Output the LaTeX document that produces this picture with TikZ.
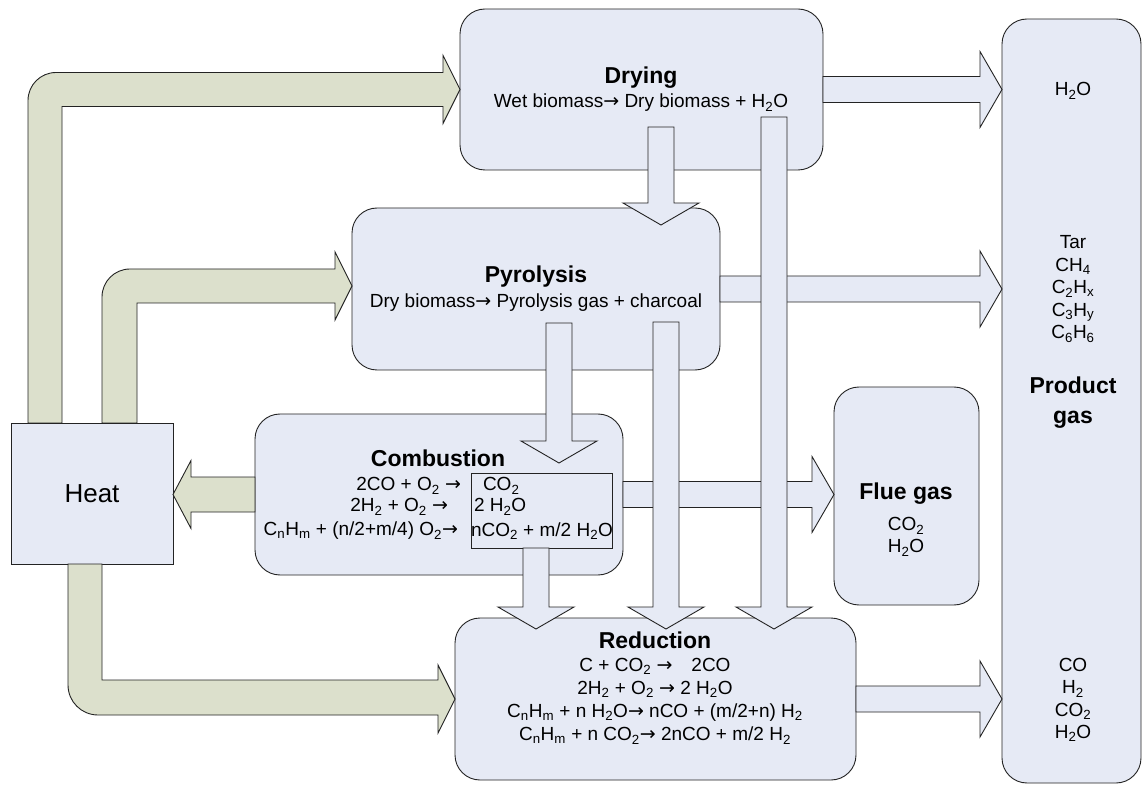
\documentclass[tikz,border=0pt]{standalone}
\usepackage{fontspec}
\setmainfont{Liberation Sans}
\newfontfamily\arrowfont{DejaVu Sans}
\usepackage{tikz}
\usetikzlibrary{calc}
\definecolor{boxfill}{RGB}{230,234,245}
\definecolor{heatfill}{RGB}{220,224,204}
\definecolor{edge}{RGB}{35,35,35}
\newcommand{\chsub}[1]{\textsubscript{#1}}
\newcommand{\yields}{{\arrowfont\fontsize{19}{20}\selectfont →}}

\begin{document}
\begin{tikzpicture}[x=1pt, y=-1pt,
  every node/.style={inner sep=0pt, outer sep=0pt},
  stage/.style={draw=edge, line width=.9pt, fill=boxfill, rounded corners=25pt},
  heatbox/.style={draw=edge, line width=.9pt, fill=boxfill},
  title/.style={font=\fontsize{23}{30}\selectfont\bfseries, align=center},
  eqn/.style={font=\fontsize{19}{22.5}\selectfont, align=center},
  heatarrow/.style={draw=edge, line width=.9pt, fill=heatfill},
  bandw/.store in=\bw, headw/.store in=\hw, headl/.store in=\hl,
  bandw=13pt, headw=38pt, headl=22pt,
  fat/.style={draw=edge, line width=.9pt, fill=boxfill,
    to path={($(\tikztotarget)!\hl!(\tikztostart)$) coordinate (fa-base)
      ($(\tikztostart)!\bw!90:(\tikztotarget)$) -- ($(fa-base)!\bw!90:(\tikztotarget)$)
      -- ($(fa-base)!\hw!90:(\tikztotarget)$) -- (\tikztotarget)
      -- ($(fa-base)!\hw!-90:(\tikztotarget)$) -- ($(fa-base)!\bw!-90:(\tikztotarget)$)
      -- ($(\tikztostart)!\bw!-90:(\tikztotarget)$) -- cycle}},
]
\useasboundingbox (0,0) rectangle (1144,786);

% stages
\node[stage, minimum width=363pt, minimum height=161pt] (dry) at (641.5,89.5) {};
\node[stage, minimum width=368pt, minimum height=162pt] (pyro) at (536,289) {};
\node[stage, minimum width=368pt, minimum height=161pt] (comb) at (439,494.5) {};
\node[stage, minimum width=401pt, minimum height=162pt] (red) at (655.5,699) {};
\node[stage, minimum width=145pt, minimum height=218pt] (flue) at (906.5,496) {};
\node[stage, minimum width=139pt, minimum height=764pt] (prod) at (1071.5,401) {};
\node[heatbox, minimum width=141pt, minimum height=75pt] (inner) at (541.5,510.5) {};
\node[heatbox, minimum width=162pt, minimum height=141pt, font=\fontsize{26}{30}\selectfont] (heat) at (92,493.5) {Heat};

% gas streams
\draw[fat] (dry.east) to (prod.west |- dry.east);
\draw[fat] (pyro.east) to (prod.west |- pyro.east);
\draw[fat] (red.east) to (prod.west |- red.east);
\draw[fat] (comb.east) to (flue.west |- comb.east);
\draw[fat, fill=heatfill, bandw=17.5pt, headw=34pt, headl=18pt] (comb.west) to (heat.east |- comb.west);
\draw[fat] ([xshift=19.5pt,yshift=43pt]dry.south) to ([xshift=125pt,yshift=-17pt]pyro.north);
\draw[fat] ([xshift=23pt,yshift=47pt]pyro.south) to ([xshift=120pt,yshift=-49pt]comb.north);
\draw[fat] ([xshift=130pt,yshift=48pt]pyro.south) to ([xshift=10.5pt,yshift=-11pt]red.north);
\draw[fat] ([xshift=-5.5pt]inner.south) to ([xshift=-119.5pt,yshift=-11pt]red.north);
\draw[fat] ([xshift=132.5pt,yshift=53pt]dry.south) to ([xshift=118.5pt,yshift=-11pt]red.north);

% heat supply
\draw[heatarrow] ([xshift=17pt]heat.north west) -- (28,100.5) .. controls (28,85) and (40.5,72.5) .. (56,72.5)
  -- (443,72.5) -- (443,55.5) -- (dry.west) -- (443,123.5) -- (443,106.5) -- (62,106.5) -- ([xshift=51pt]heat.north west) -- cycle;
\draw[heatarrow] ([xshift=91pt]heat.north west) -- (102,297) .. controls (102,281.5) and (114.5,269) .. (130,269)
  -- (335,269) -- (335,252) -- ([yshift=3pt]pyro.west) -- (335,320) -- (335,303) -- (137,303) -- ([xshift=126pt]heat.north west) -- cycle;
\draw[heatarrow] ([xshift=57pt]heat.south west) -- (68,685) .. controls (68,701.6) and (81.4,715) .. (98,715)
  -- (438,715) -- (438,733) -- (red.west) -- (438,665) -- (438,680) -- (102,680) -- ([xshift=91pt]heat.south west) -- cycle;

% texts
\node[title] (drytitle) at (641,78) {Drying};
\node[eqn] (dryeq) at (641,103) {Wet biomass\yields{} Dry biomass + H\chsub{2}O};
\node[title] (pyrotitle) at (536,277) {Pyrolysis};
\node[eqn] (pyroeq) at (536,303) {Dry biomass\yields{} Pyrolysis gas + charcoal};
\node[title] (combtitle) at (438,458) {Combustion};
\node[eqn, anchor=east] (ceq1) at (461,486) {2CO + O\chsub{2} \yields};
\node[eqn, anchor=east] (ceq2) at (448,507) {2H\chsub{2} + O\chsub{2} \yields};
\node[eqn, anchor=east] (ceq3) at (458,531) {C\chsub{n}H\chsub{m} + (n/2+m/4) O\chsub{2}\yields};
\node[eqn, anchor=west] (cres1) at (483,486) {CO\chsub{2}};
\node[eqn, anchor=west] (cres2) at (474,507) {2 H\chsub{2}O};
\node[eqn, anchor=west] (cres3) at (471,531) {nCO\chsub{2} + m/2 H\chsub{2}O};
\node[title] (redtitle) at (655,640) {Reduction};
\node[eqn, font=\fontsize{19}{23.3}\selectfont] (redeq) at (655,701) {C + CO\chsub{2} \yields\quad 2CO\\
  2H\chsub{2} + O\chsub{2} \yields{} 2 H\chsub{2}O\\
  C\chsub{n}H\chsub{m} + n H\chsub{2}O\yields{} nCO + (m/2+n) H\chsub{2}\\
  C\chsub{n}H\chsub{m} + n CO\chsub{2}\yields{} 2nCO + m/2 H\chsub{2}};
\node[title] (fluetitle) at (906,494) {Flue gas};
\node[eqn, font=\fontsize{19}{22}\selectfont] (flueeq) at (906,537) {CO\chsub{2}\\H\chsub{2}O};
\node[eqn] (prodwater) at (1073,91) {H\chsub{2}O};
\node[eqn] (prodtar) at (1073,289) {Tar\\CH\chsub{4}\\C\chsub{2}H\chsub{x}\\C\chsub{3}H\chsub{y}\\C\chsub{6}H\chsub{6}};
\node[title] (prodtitle) at (1073,403) {Product\\gas};
\node[eqn, font=\fontsize{19}{22.3}\selectfont] (prodsyn) at (1073,700) {CO\\H\chsub{2}\\CO\chsub{2}\\H\chsub{2}O};
\end{tikzpicture}
\end{document}
